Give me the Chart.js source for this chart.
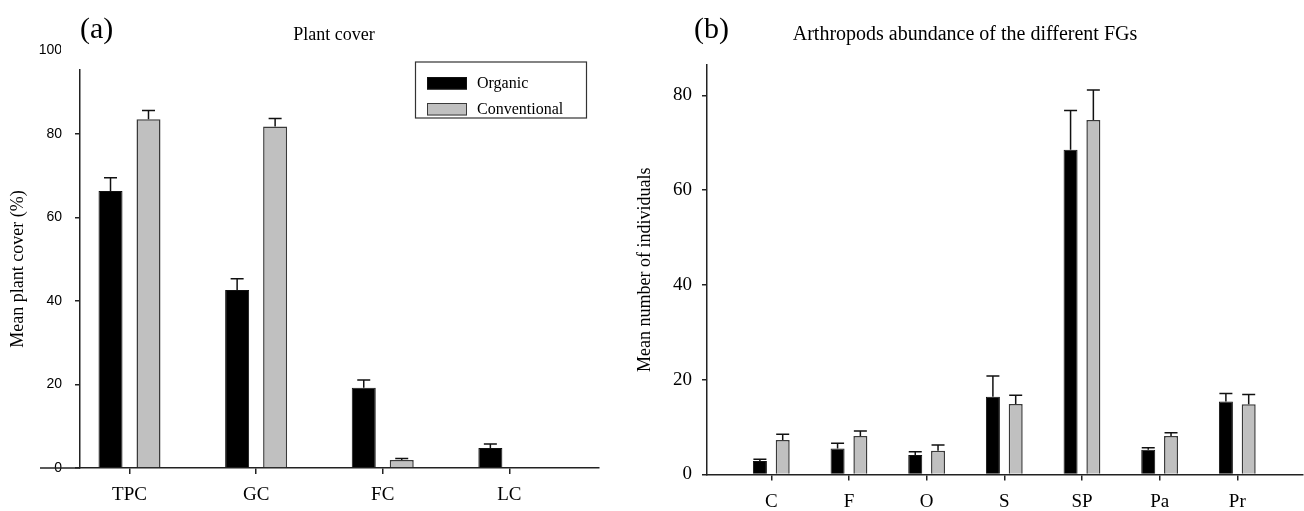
<!DOCTYPE html>
<html>
<head>
<meta charset="utf-8">
<script src="https://cdn.jsdelivr.net/npm/chart.js@4"></script>
<style>
  body { margin: 0; background: #fff; width: 1304px; height: 511px; overflow: hidden; position: relative; }
  canvas { position: absolute; top: 0; }
  #plant { left: 0; }
  #arth { left: 620px; }
</style>
</head>
<body>
<canvas id="plant" width="620" height="511"></canvas>
<canvas id="arth" width="684" height="511"></canvas>
<script>
const SERIES = ["Organic", "Conventional"]

// (a) plant cover
const PLANT_CATS = ["TPC", "GC", "FC", "LC"]
const PLANT_ORGANIC = [66.3, 42.6, 19.2, 4.8]
const PLANT_ORGANIC_SE = [3.2, 2.7, 1.9, 0.95]
const PLANT_CONV = [83.5, 81.8, 1.9, null]
const PLANT_CONV_SE = [2.1, 1.9, 0.4, null]
const PLANT_TICKS = [0, 20, 40, 60, 80]

// (b) arthropods per functional group
const ARTH_CATS = ["C", "F", "O", "S", "SP", "Pa", "Pr"]
const ARTH_ORGANIC = [2.85, 5.5, 4.1, 16.4, 68.5, 5.2, 15.4]
const ARTH_ORGANIC_SE = [0.35, 1.1, 0.7, 4.4, 8.3, 0.45, 1.7]
const ARTH_CONV = [7.3, 8.1, 5.0, 14.9, 74.8, 8.1, 14.8]
const ARTH_CONV_SE = [1.2, 1.1, 1.2, 1.8, 6.3, 0.7, 2.1]
const ARTH_TICKS = [0, 20, 40, 60, 80]

const SERIF = "'Liberation Serif', 'Times New Roman', serif"
const SANS = "'Liberation Sans', Arial, sans-serif"
const AXIS = '#222'
const FILLS = ['#000000', '#c0c0c0']
const EDGES = ['#111111', '#3a3a3a']

Chart.defaults.animation = false
Chart.defaults.devicePixelRatio = 1

const toXY = arr => arr.map((v, i) => ({ x: i, y: v }))

const makeDatasets = (org, orgSe, conv, convSe) => [
  { label: SERIES[0], data: toXY(org), se: orgSe, backgroundColor: FILLS[0], borderColor: EDGES[0], borderWidth: 1 },
  { label: SERIES[1], data: toXY(conv), se: convSe, backgroundColor: FILLS[1], borderColor: EDGES[1], borderWidth: 1.5 }
]

// error bars (mean + SE, upper side only)
const errorBars = {
  id: 'errorBars',
  afterDatasetsDraw(chart) {
    const ctx = chart.ctx
    const y = chart.scales.y
    ctx.save()
    ctx.strokeStyle = '#111'
    ctx.lineWidth = 1.5
    chart.data.datasets.forEach((ds, i) => {
      chart.getDatasetMeta(i).data.forEach((bar, j) => {
        const v = ds.data[j].y
        const se = ds.se[j]
        if (v == null || se == null) return
        const top = y.getPixelForValue(v + se)
        ctx.beginPath()
        ctx.moveTo(bar.x, bar.y)
        ctx.lineTo(bar.x, top)
        ctx.moveTo(bar.x - 6.5, top)
        ctx.lineTo(bar.x + 6.5, top)
        ctx.stroke()
      })
    })
    ctx.restore()
  }
}

const textPlugin = (items) => ({
  id: 'texts',
  afterDraw(chart) {
    const ctx = chart.ctx
    ctx.save()
    ctx.fillStyle = '#000'
    ctx.textBaseline = 'alphabetic'
    items.forEach(t => {
      ctx.font = t.font
      ctx.textAlign = t.align || 'left'
      ctx.fillText(t.text, t.x, t.y)
    })
    ctx.restore()
  }
})

const baseScales = (cats, xmin, xmax, xHeight, ymax, yTicks, yWidth, yFont, yPad, title, titlePad) => ({
  x: {
    type: 'linear', min: xmin, max: xmax, offset: false,
    afterBuildTicks: s => { s.ticks = cats.map((c, i) => ({ value: i })) },
    afterFit: s => { s.height = xHeight },
    ticks: { callback: v => cats[v], font: { family: SERIF, size: 19 }, color: '#000', padding: 10, autoSkip: false, maxRotation: 0 },
    grid: { offset: false, drawOnChartArea: false, drawTicks: true, tickLength: 6, color: AXIS, lineWidth: 1.5 },
    border: { color: AXIS, width: 1.5 }
  },
  y: {
    min: 0, max: ymax,
    afterBuildTicks: s => { s.ticks = yTicks.map(v => ({ value: v })) },
    afterFit: s => { s.width = yWidth },
    ticks: { font: yFont, color: '#000', padding: yPad },
    grid: { drawOnChartArea: false, drawTicks: true, tickLength: 5, color: AXIS, lineWidth: 1.5 },
    border: { color: AXIS, width: 1.5 },
    title: { display: true, text: title, font: { family: SERIF, size: 18 }, color: '#000', padding: titlePad }
  }
})

// ---------- (a) ----------
const plantExtras = {
  id: 'plantExtras',
  beforeDatasetsDraw(chart) {
    const ctx = chart.ctx
    const y0 = chart.scales.y.getPixelForValue(0)
    ctx.save()
    ctx.strokeStyle = AXIS
    ctx.lineWidth = 1.5
    ctx.beginPath()
    ctx.moveTo(40, y0)
    ctx.lineTo(chart.chartArea.left, y0)
    ctx.stroke()
    ctx.restore()
  },
  afterDraw(chart) {
    const ctx = chart.ctx
    const ca = chart.chartArea
    // the "100" label is clipped in the original figure
    const y100 = chart.scales.y.getPixelForValue(100)
    ctx.save()
    ctx.beginPath()
    ctx.rect(0, 0, 61, chart.height)
    ctx.clip()
    ctx.font = '14px ' + SANS
    ctx.fillStyle = '#000'
    ctx.textAlign = 'right'
    ctx.textBaseline = 'middle'
    ctx.fillText('100', ca.left - 18, y100)
    ctx.restore()

    // legend box
    ctx.save()
    ctx.strokeStyle = '#333'
    ctx.lineWidth = 1.2
    ctx.strokeRect(415.5, 62, 171, 56)
    ctx.lineWidth = 1
    chart.data.datasets.forEach((ds, i) => {
      const top = 77 + i * 26
      ctx.fillStyle = ds.backgroundColor
      ctx.fillRect(427, top, 40, 12.5)
      ctx.strokeStyle = ds.borderColor
      ctx.strokeRect(427.5, top + 0.5, 39, 11.5)
      ctx.fillStyle = '#000'
      ctx.font = '16px ' + SERIF
      ctx.textAlign = 'left'
      ctx.textBaseline = 'middle'
      ctx.fillText(ds.label, 477, top + 6.5)
    })
    ctx.restore()
  }
}

new Chart(document.getElementById('plant'), {
  type: 'bar',
  data: { datasets: makeDatasets(PLANT_ORGANIC, PLANT_ORGANIC_SE, PLANT_CONV, PLANT_CONV_SE) },
  options: {
    responsive: false,
    categoryPercentage: 0.60,
    barPercentage: 0.632,
    layout: { padding: { top: 70, right: 21, left: 0, bottom: 0 } },
    plugins: { legend: { display: false }, tooltip: { enabled: false } },
    scales: baseScales(PLANT_CATS, -0.391, 3.708, 43, 95.3, PLANT_TICKS, 80,
      { family: SANS, size: 14 }, 13, 'Mean plant cover (%)', 7)
  },
  plugins: [errorBars, plantExtras, textPlugin([
    { text: '(a)', x: 80, y: 38, font: '30px ' + SERIF },
    { text: 'Plant cover', x: 334, y: 40, font: '18px ' + SERIF, align: 'center' }
  ])]
})

// ---------- (b) ----------
new Chart(document.getElementById('arth'), {
  type: 'bar',
  data: { datasets: makeDatasets(ARTH_ORGANIC, ARTH_ORGANIC_SE, ARTH_CONV, ARTH_CONV_SE) },
  options: {
    responsive: false,
    categoryPercentage: 0.587,
    barPercentage: 0.614,
    layout: { padding: { top: 65, right: 1, left: 0, bottom: 0 } },
    plugins: { legend: { display: false }, tooltip: { enabled: false } },
    scales: baseScales(ARTH_CATS, -0.828, 6.846, 36.5, 86.4, ARTH_TICKS, 87,
      { family: SERIF, size: 19 }, 10, 'Mean number of individuals', 14)
  },
  plugins: [errorBars, textPlugin([
    { text: '(b)', x: 74, y: 38, font: '30px ' + SERIF },
    { text: 'Arthropods abundance of the different FGs', x: 345, y: 40, font: '20px ' + SERIF, align: 'center' }
  ])]
})
</script>
</body>
</html>
